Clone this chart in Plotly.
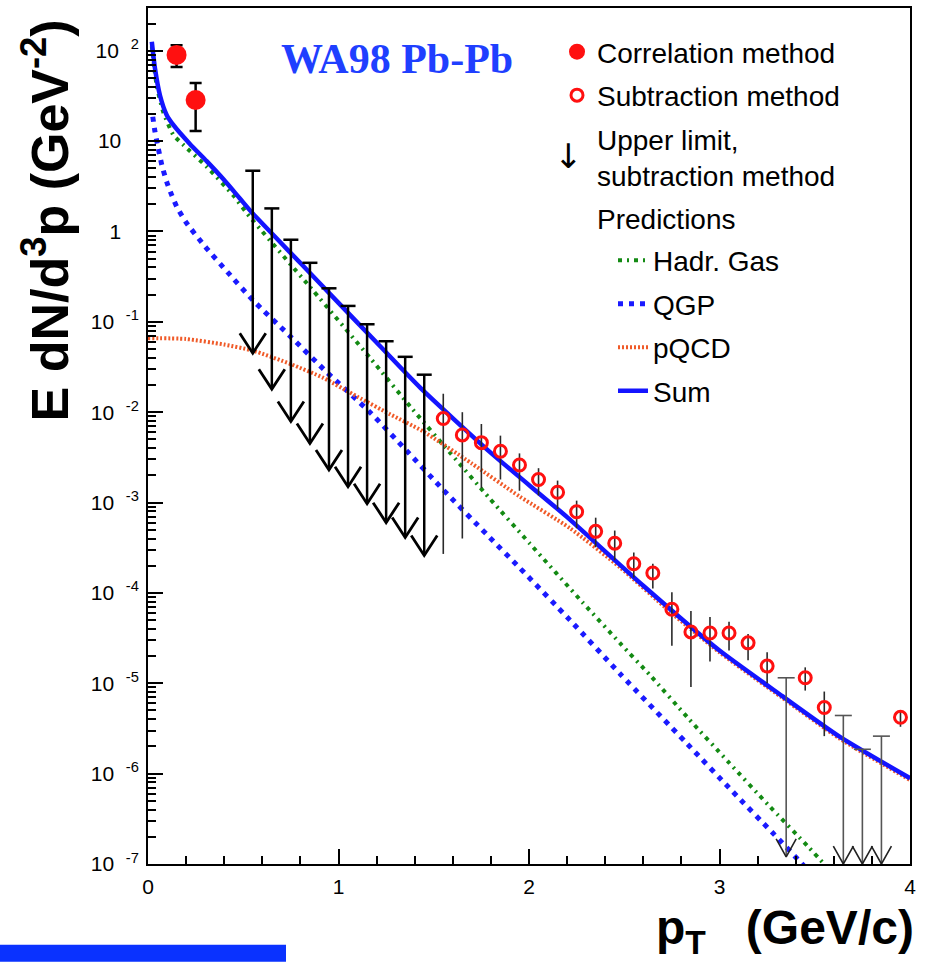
import plotly.graph_objects as go

# ---------------- data ----------------
corr_x = [0.15, 0.25]
corr_y = [90.0, 28.5]
corr_hi = [115.0, 44.0]
corr_lo = [66.0, 12.9]

sub_x = [1.55, 1.65, 1.75, 1.85, 1.95, 2.05, 2.15, 2.25, 2.35, 2.45, 2.55, 2.65,
         2.75, 2.85, 2.95, 3.05, 3.15, 3.25, 3.45, 3.55, 3.95]
sub_y = [8.5e-3, 5.6e-3, 4.6e-3, 3.7e-3, 2.6e-3, 1.8e-3, 1.3e-3, 7.9e-4, 4.8e-4, 3.55e-4,
         2.1e-4, 1.66e-4, 6.6e-5, 3.7e-5, 3.6e-5, 3.6e-5, 2.8e-5, 1.55e-5, 1.15e-5, 5.4e-6, 4.2e-6]
sub_hi = [1.6e-2, 1.0e-2, 7.4e-3, 5.5e-3, 3.5e-3, 2.4e-3, 1.75e-3, 1.05e-3, 6.8e-4, 4.9e-4,
          2.8e-4, 2.1e-4, 1.02e-4, 6.3e-5, 5.4e-5, 4.8e-5, 3.5e-5, 2.2e-5, 1.5e-5, 8.1e-6, 4.9e-6]
sub_lo = [2.7e-4, 4.0e-4, 1.45e-3, 1.8e-3, 1.35e-3, 1.2e-3, 8.5e-4, 5.2e-4, 3.2e-4, 2.3e-4,
          1.48e-4, 1.12e-4, 2.6e-5, 9.1e-6, 1.74e-5, 2.3e-5, 1.8e-5, 1.0e-5, 8.3e-6, 2.6e-6, 3.3e-6]

ul_x = [0.55, 0.65, 0.75, 0.85, 0.95, 1.05, 1.15, 1.25, 1.35, 1.45]
ul_top = [4.7, 1.8, 0.81, 0.45, 0.235, 0.15, 0.094, 0.061, 0.041, 0.026]
ul_tip = [0.045, 0.018, 0.0079, 0.0045, 0.0023, 0.0015, 0.00097, 0.0006, 0.00041, 0.00026]

ul2_x = [3.35, 3.65, 3.75, 3.85]
ul2_top = [1.15e-5, 4.4e-6, 1.86e-6, 2.6e-6]
ul2_tip = [1.2e-7, 1.0e-7, 1.0e-7, 1.0e-7]

hadr_x = [0.02, 0.045, 0.08, 0.133, 0.185, 0.308, 0.448, 0.52, 0.86, 1.165, 1.39, 1.59,
          1.795, 2.005, 2.28, 2.48, 2.635, 2.836, 3.046, 3.256, 3.466, 3.6]
hadr_y = [112, 42, 21, 11.7, 9.1, 5.2, 2.5, 1.58, 0.23, 0.04, 0.0107, 3.47e-3,
          1.1e-3, 3.5e-4, 7.9e-5, 2.75e-5, 1.23e-5, 4.1e-6, 1.35e-6, 4.5e-7, 1.55e-7, 7.6e-8]

qgp_x = [0.025, 0.037, 0.054, 0.072, 0.098, 0.124, 0.15, 0.2, 0.3, 0.42, 0.55, 0.75, 0.94,
         1.165, 1.36, 1.55, 1.78, 1.95, 2.215, 2.48, 2.83, 3.07, 3.28, 3.43, 3.5]
qgp_y = [18.6, 12.6, 8.3, 5.5, 3.55, 2.54, 1.9, 1.26, 0.68, 0.35, 0.174, 0.068, 0.0275,
         0.01, 3.7e-3, 1.38e-3, 4.4e-4, 1.9e-4, 5.0e-5, 1.26e-5, 2.14e-6, 6.3e-7, 2.2e-7, 1.02e-7, 7.1e-8]

pqcd_x = [0.0, 0.2, 0.4, 0.55, 0.75, 0.92, 1.1, 1.27, 1.44, 1.7, 1.95, 2.215, 2.48, 2.74,
          3.0, 3.33, 3.63, 4.0]
pqcd_y = [0.066, 0.0646, 0.056, 0.048, 0.034, 0.024, 0.0148, 9.5e-3, 6.2e-3, 2.7e-3, 1.17e-3,
          5.2e-4, 1.9e-4, 6.2e-5, 2.2e-5, 6.9e-6, 2.45e-6, 8.5e-7]

sum_x = [0.02, 0.037, 0.063, 0.098, 0.133, 0.22, 0.308, 0.395, 0.48, 0.55, 0.8, 1.0, 1.2,
         1.43, 1.8, 2.2, 2.6, 3.0, 3.33, 3.63, 4.0]
sum_y = [126, 63, 32, 19.5, 15.1, 9.3, 6.0, 3.8, 2.35, 1.58, 0.447, 0.162, 0.059,
         0.0186, 3.55e-3, 6.9e-4, 1.2e-4, 2.3e-5, 7.2e-6, 2.57e-6, 8.9e-7]

y_tickvals = [1e2, 1e1, 1e0, 1e-1, 1e-2, 1e-3, 1e-4, 1e-5, 1e-6, 1e-7]
NB = "\u00a0"
y_ticktext = ["10" + NB * 2 + "<sup>2</sup>", "10" + NB * 3, "1" + NB * 3] + \
             ["10" + NB * 2 + "<sup>-%d</sup>" % k for k in range(1, 8)]
x_tickvals = [0, 1, 2, 3, 4]

# ---------------- geometry helpers ----------------
X_RANGE = [0, 4]
Y_RANGE = [-7, 2.473]
PLOT_W, PLOT_H = 762, 858
PX_X = (X_RANGE[1] - X_RANGE[0]) / PLOT_W
PX_LOG = (Y_RANGE[1] - Y_RANGE[0]) / PLOT_H


def arrows(xs, tops, tips, cap_px, head_w_px, head_h_px):
    sx, sy, hx, hy = [], [], [], []
    cw, hw = cap_px * PX_X, head_w_px * PX_X
    hh = 10 ** (head_h_px * PX_LOG)
    for x, t, b in zip(xs, tops, tips):
        sx += [x - cw, x + cw, None, x, x, None]
        sy += [t, t, None, t, b, None]
        hx += [x - hw, x, x + hw, None]
        hy += [b * hh, b, b * hh, None]
    return sx, sy, hx, hy


fig = go.Figure()

# prediction curves
fig.add_trace(go.Scatter(x=hadr_x, y=hadr_y, mode="lines", name="Hadr. Gas", line_shape="spline",
                         line=dict(color="#138a13", width=4, dash="4px,5px,2px,5px", smoothing=0.6),
                         legend="legend2", legendgroup="e", legendrank=5))
fig.add_trace(go.Scatter(x=qgp_x, y=qgp_y, mode="lines", name="QGP", line_shape="spline",
                         line=dict(color="#1a1aff", width=5, dash="5px,6px", smoothing=0.6),
                         legend="legend2", legendgroup="f", legendrank=6))
fig.add_trace(go.Scatter(x=pqcd_x, y=pqcd_y, mode="lines", name="pQCD", line_shape="spline",
                         line=dict(color="#f05a28", width=4, dash="2px,2px", smoothing=0.6),
                         legend="legend2", legendgroup="g", legendrank=7))
fig.add_trace(go.Scatter(x=sum_x, y=sum_y, mode="lines", name="Sum", line_shape="spline",
                         line=dict(color="#1414ff", width=4.5, smoothing=0.6),
                         legend="legend2", legendgroup="h", legendrank=8))

# upper limits
sx, sy, hx, hy = arrows(ul_x, ul_top, ul_tip, 7.5, 13, 20)
fig.add_trace(go.Scatter(x=sx, y=sy, mode="lines", line=dict(color="black", width=2.5),
                         showlegend=False, hoverinfo="skip"))
fig.add_trace(go.Scatter(x=hx, y=hy, mode="lines", line=dict(color="black", width=2.8),
                         showlegend=False, hoverinfo="skip"))
sx2, sy2, hx2, hy2 = arrows(ul2_x, ul2_top, ul2_tip, 8.5, 10, 18)
fig.add_trace(go.Scatter(x=sx2, y=sy2, mode="lines", line=dict(color="#555555", width=1.6),
                         showlegend=False, hoverinfo="skip"))
fig.add_trace(go.Scatter(x=hx2, y=hy2, mode="lines", line=dict(color="#222222", width=1.6),
                         showlegend=False, hoverinfo="skip"))

# measured points
fig.add_trace(go.Scatter(
    x=sub_x, y=sub_y, mode="markers", name="Subtraction method",
    marker=dict(symbol="circle-open", size=12, color="#ff1010", line=dict(width=3, color="#ff1010")),
    error_y=dict(type="data", symmetric=False,
                 array=[h - v for h, v in zip(sub_hi, sub_y)],
                 arrayminus=[v - l for v, l in zip(sub_y, sub_lo)],
                 thickness=1.6, width=0, color="#2a2a2a"),
    legend="legend", legendgroup="b", legendrank=2))
fig.add_trace(go.Scatter(
    x=corr_x, y=corr_y, mode="markers", name="Correlation method",
    marker=dict(symbol="circle", size=20, color="#ff1010"),
    error_y=dict(type="data", symmetric=False,
                 array=[h - v for h, v in zip(corr_hi, corr_y)],
                 arrayminus=[v - l for v, l in zip(corr_y, corr_lo)],
                 thickness=2.5, width=6, color="black"),
    legend="legend", legendgroup="a", legendrank=1))

# legend-only entries
fig.add_trace(go.Scatter(x=[None], y=[None], mode="markers", name="Upper limit,<br>subtraction method",
                         marker=dict(size=1, color="rgba(0,0,0,0)"),
                         legend="legend", legendgroup="c", legendrank=3))
fig.add_trace(go.Scatter(x=[None], y=[None], mode="markers", name="Predictions",
                         marker=dict(size=1, color="rgba(0,0,0,0)"),
                         legend="legend", legendgroup="d", legendrank=4))


def px_to_paper(px, py):
    return (px - 148) / PLOT_W, (864 - py) / PLOT_H


lx, ly = px_to_paper(557, 25)
l2x, l2y = px_to_paper(613, 234)

fig.update_layout(
    width=925, height=962,
    margin=dict(l=148, r=15, t=6, b=98),
    paper_bgcolor="white", plot_bgcolor="white",
    font=dict(family="Liberation Sans, Arial, sans-serif", color="black"),
    legend=dict(x=lx, y=ly, xanchor="left", yanchor="top", bgcolor="rgba(0,0,0,0)",
                borderwidth=0, font=dict(size=28), tracegroupgap=4.1, traceorder="grouped",
                itemwidth=30),
    legend2=dict(x=l2x, y=l2y, xanchor="left", yanchor="top", bgcolor="rgba(0,0,0,0)",
                 borderwidth=0, font=dict(size=28), tracegroupgap=4.1, traceorder="grouped",
                 itemwidth=30),
    xaxis=dict(range=X_RANGE, tickvals=x_tickvals, ticks="inside", ticklen=15, tickwidth=1.5,
               tickcolor="black", showline=True, linewidth=2, linecolor="black", mirror=True,
               showgrid=False, zeroline=False, tickfont=dict(size=21), ticklabelstandoff=3,
               minor=dict(dtick=0.2, ticks="inside", ticklen=8, tickwidth=1.5, tickcolor="black")),
    yaxis=dict(type="log", range=Y_RANGE, tickvals=y_tickvals, ticktext=y_ticktext,
               ticks="inside", ticklen=15, tickwidth=1.5, tickcolor="black",
               showline=True, linewidth=2, linecolor="black", mirror=True,
               showgrid=False, zeroline=False, tickfont=dict(size=21), ticklabelstandoff=3,
               minor=dict(tickmode="array",
                          tickvals=[k * 10.0 ** d for d in range(-7, 3) for k in range(2, 10)],
                          ticks="inside", ticklen=8, tickwidth=1.5, tickcolor="black")),
)

ax, ay = px_to_paper(397, 57)
fig.add_annotation(x=ax, y=ay, xref="paper", yref="paper", showarrow=False,
                   text="<b>WA98 Pb-Pb</b>", xanchor="center", yanchor="middle",
                   font=dict(family="Liberation Serif, Times New Roman, serif", size=42, color="#1f3fff"))

ax, ay = px_to_paper(568, 154)
fig.add_annotation(x=ax, y=ay, xref="paper", yref="paper", showarrow=False, text="↓",
                   xanchor="center", yanchor="middle",
                   font=dict(family="DejaVu Sans", size=34, color="black"))

ax, ay = px_to_paper(46, 219)
fig.add_annotation(x=ax, y=ay, xref="paper", yref="paper", showarrow=False, textangle=-90,
                   text="<b>E dN/d<sup>3</sup>p (GeV<sup>-2</sup>)</b>", xanchor="center", yanchor="middle",
                   font=dict(size=52, color="black"))

ax, ay = px_to_paper(916, 931)
fig.add_annotation(x=ax, y=ay, xref="paper", yref="paper", showarrow=False,
                   text="<b>p<sub>T</sub>" + NB * 3 + "(GeV/c)</b>", xanchor="right", yanchor="middle",
                   font=dict(size=48, color="black"))

bx0, by0 = px_to_paper(0, 962)
bx1, by1 = px_to_paper(286, 945)
fig.add_shape(type="rect", xref="paper", yref="paper", x0=bx0, y0=by0, x1=bx1, y1=by1,
              fillcolor="#0a32ff", line=dict(width=0), layer="above")

fig.write_html("out.html", config={"displayModeBar": False},
               post_script="document.body.style.margin='0';document.body.style.overflow='hidden';")
